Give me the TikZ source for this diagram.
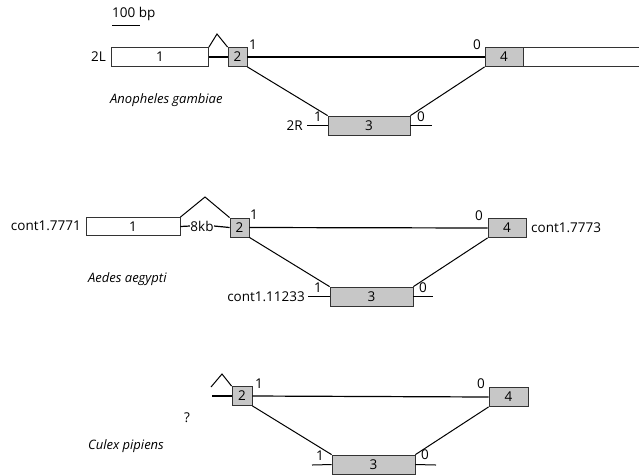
\documentclass[tikz,border=0pt]{standalone}
\usepackage{fontspec}
\setmainfont{Open Sans}
\begin{document}
\begin{tikzpicture}[x=1pt,y=-1pt,
  exon/.style={draw=black!80,line width=0.8pt,minimum height=19pt,inner sep=0pt,font=\fontsize{13.5}{14}\selectfont},
  grey/.style={exon,fill=black!22},
  white/.style={exon,fill=white},
  conn/.style={line width=1.2pt},
  thin/.style={line width=1pt},
  lab/.style={font=\fontsize{13.5}{14}\selectfont,inner sep=0pt},
  sp/.style={font=\fontsize{13}{14}\selectfont\itshape,inner sep=0pt}]
\useasboundingbox (0,0) rectangle (639,475);
\clip (0,0) rectangle (639,475);
% scale bar
\node[lab,anchor=west] (bp) at (112,14) {100 bp};
\coordinate (sbL) at (112,25);
\coordinate (sbR) at (140,25);
\draw[thin] (sbL) -- (sbR);

% ---------- Row 1: Anopheles gambiae ----------
\node[white,minimum width=97pt] (e1a) at (160,57) {1};
\node[grey,minimum width=19pt] (e2a) at (237.5,57) {2};
\node[grey,minimum width=82pt] (e3a) at (369,125.5) {3};
\node[grey,minimum width=38pt] (e4a) at (504,57) {4};
\node[white,minimum width=130pt,anchor=west] (t4a) at (e4a.east) {};
\coordinate (pka) at (217,34);
\draw[thin] (e1a.north east) -- (pka) -- (e2a.north west);
\draw[conn] (e1a.east) -- (e2a.west);
\draw[conn] (e2a.east) -- (e4a.west);
\draw[thin] (e2a.south east) -- (e3a.north west);
\draw[thin] (e3a.north east) -- (e4a.south west);
\coordinate (s3aL) at (307,125.5);
\coordinate (s3aR) at (432,125.5);
\draw[thin] (s3aL) -- (e3a.west);
\draw[thin] (e3a.east) -- (s3aR);
\node[lab,anchor=east] (c2L) at (106,57) {2L};
\node[lab,anchor=east] (c2R) at (303,126) {2R};
\node[lab] (a1) at (253,45) {1};
\node[lab] (a0) at (477,45) {0};
\node[lab] (a31) at (318,117) {1};
\node[lab] (a30) at (421,117) {0};
\node[sp,anchor=west] (spa) at (110,100) {Anopheles gambiae};

% ---------- Row 2: Aedes aegypti ----------
\node[white,minimum width=94pt,minimum height=18pt] (e1b) at (133,226.5) {1};
\node[grey,minimum width=19pt] (e2b) at (239.5,227.5) {2};
\node[grey,minimum width=83pt] (e3b) at (371.5,296.5) {3};
\node[grey,minimum width=38pt] (e4b) at (507,228) {4};
\node[lab,inner sep=0.3pt] (kb) at (202,226) {8kb};
\coordinate (pkb) at (205,197);
\draw[thin] (e1b.north east) -- (pkb) -- (e2b.north west);
\draw[conn] (e1b.east) -- (kb.west);
\draw[conn] (kb.east) -- (e2b.west);
\draw[conn] (e2b.east) -- (e4b.west);
\draw[thin] (e2b.south east) -- (e3b.north west);
\draw[thin] (e3b.north east) -- (e4b.south west);
\coordinate (s3bL) at (308,296.5);
\coordinate (s3bR) at (433,296.5);
\draw[thin] (s3bL) -- (e3b.west);
\draw[thin] (e3b.east) -- (s3bR);
\node[lab,anchor=east] (cL) at (81,226) {cont1.7771};
\node[lab,anchor=west] (cR) at (531,228) {cont1.7773};
\node[lab,anchor=east] (cM) at (305,297) {cont1.11233};
\node[lab] (b1) at (254,215) {1};
\node[lab] (b0) at (479,216) {0};
\node[lab] (b31) at (318,288) {1};
\node[lab] (b30) at (423,288) {0};
\node[sp,anchor=west] (spb) at (88,279) {Aedes aegypti};

% ---------- Row 3: Culex pipiens ----------
\node[grey,minimum width=20pt] (e2c) at (242,396) {2};
\node[grey,minimum width=83pt] (e3c) at (373.5,464.5) {3};
\node[grey,minimum width=39pt] (e4c) at (508.5,397) {4};
\coordinate (s2cL) at (212,396);
\coordinate (cka) at (211,387);
\coordinate (pkc) at (222,374);
\draw[thin] (cka) -- (pkc) -- (e2c.north west);
\draw[conn] (s2cL) -- (e2c.west);
\draw[conn] (e2c.east) -- (e4c.west);
\draw[thin] (e2c.south east) -- (e3c.north west);
\draw[thin] (e3c.north east) -- (e4c.south west);
\coordinate (s3cL) at (312,465);
\coordinate (s3cR) at (436,465);
\draw[thin] (s3cL) -- (e3c.west);
\draw[thin] (e3c.east) -- (s3cR);
\node[lab] (q) at (187,418) {?};
\node[lab] (c1) at (259,384) {1};
\node[lab] (c0) at (481,384) {0};
\node[lab] (c31) at (320,456) {1};
\node[lab] (c30) at (425,455) {0};
\node[sp,anchor=west] (spc) at (88,446) {Culex pipiens};
\end{tikzpicture}
\end{document}
